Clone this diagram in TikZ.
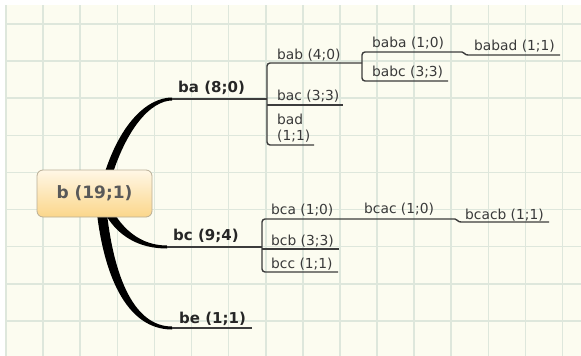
\documentclass[tikz,border=0pt]{standalone}
\usepackage{fontspec}
\setmainfont{DejaVu Sans}
\definecolor{bgc}{HTML}{FCFCF0}
\definecolor{gridc}{HTML}{DEE7DC}
\definecolor{linec}{HTML}{3C3C3C}
\definecolor{txtc}{HTML}{3A3A3A}
\definecolor{rootborder}{HTML}{B9AE96}
\definecolor{roottop}{HTML}{FFF7E6}
\definecolor{rootbot}{HTML}{FBD68A}
\definecolor{roottext}{HTML}{595959}
\begin{document}
\begin{tikzpicture}[x=1pt,y=-1pt,
  leaf/.style={anchor=base west, inner sep=0pt, text=txtc, font=\fontsize{13.8}{15.5}\selectfont},
  mainlbl/.style={anchor=base west, inner sep=0pt, text=black!85, font=\fontsize{15}{18}\selectfont\bfseries},
  thinline/.style={draw=linec, line width=1.4pt},
  bracket/.style={draw=linec, line width=1.4pt, rounded corners=3pt},
  taper/.style={fill=black},
  rootbox/.style={draw=rootborder, line width=0.8pt, rounded corners=6pt, top color=roottop, bottom color=rootbot, minimum width=115pt, minimum height=47pt, text=roottext, font=\fontsize{17}{20}\selectfont\bfseries}]
\useasboundingbox (0,0) rectangle (581,356);
\fill[bgc] (5,5) rectangle (581,356);
\foreach \i in {0,...,15} \draw[gridc, line width=1.6pt] ({6+37.1*\i},5) -- ({6+37.1*\i},356);
\foreach \j in {0,...,8} \draw[gridc, line width=1.6pt] (5,{24+37.1*\j}) -- (581,{24+37.1*\j});

% coordinates
\coordinate (baE) at (172,99);
\coordinate (baJ) at (267,99);
\coordinate (babJ) at (362,63);
\coordinate (bacS) at (267,105);
\coordinate (bacE) at (343,105);
\coordinate (badE) at (314,145);
\coordinate (babaE) at (462,52);
\coordinate (babadE) at (560,55);
\coordinate (babcE) at (448,81);
\coordinate (bcE) at (167,247);
\coordinate (bcJ) at (262,247);
\coordinate (bcacE) at (455,219);
\coordinate (bcacbE) at (549,222);
\coordinate (bcbS) at (262,249);
\coordinate (bcbE) at (339,249);
\coordinate (bccE) at (338,272);
\coordinate (beE) at (172,328);
\coordinate (beF) at (252,328);

% tapered main branches
\fill[taper] (99,193) .. controls (116,123) and (148,97.5) .. (172,97.5) -- (172,100.5) .. controls (152,100.5) and (124,127) .. (107,193) -- cycle;
\fill[taper] (103.5,191.5) .. controls (119,232) and (143,245.5) .. (167,245.5) -- (167,248.5) .. controls (141,248.5) and (111,238) .. (96.5,194.5) -- cycle;
\fill[taper] (105,193) .. controls (111,274) and (133,326.5) .. (172,326.5) -- (172,329.5) .. controls (127,329.5) and (101,276) .. (95,193) -- cycle;

\node[rootbox] (root) at (94.5,193.5) {b (19;1)};

% ba subtree
\draw[thinline] (baE) -- (baJ);
\draw[bracket] (babJ) -- (267,63) -- (267,145) -- (badE);
\draw[thinline] (bacS) -- (bacE);
\draw[bracket] (babaE) -- (362,52) -- (362,81) -- (babcE);
\draw[thinline] (babaE) .. controls (465,52) and (464,55) .. (468,55) -- (babadE);

% bc subtree
\draw[thinline] (bcE) -- (bcJ);
\draw[bracket] (bcacE) -- (262,219) -- (262,272) -- (bccE);
\draw[thinline] (bcbS) -- (bcbE);
\draw[thinline] (bcacE) .. controls (458,219) and (457,222) .. (461,222) -- (bcacbE);

% be
\draw[thinline] (beE) -- (beF);

% labels
\node[mainlbl] (ba) at (178,92) {ba (8;0)};
\node[mainlbl] (bc) at (173,240) {bc (9;4)};
\node[mainlbl] (be) at (179,323) {be (1;1)};
\node[leaf] (bab) at (277,59) {bab (4;0)};
\node[leaf] (bac) at (277,100) {bac (3;3)};
\node[leaf, align=left] (bad) at (277,140) {bad\\(1;1)};
\node[leaf] (baba) at (372,47) {baba (1;0)};
\node[leaf] (babad) at (474,50) {babad (1;1)};
\node[leaf] (babc) at (372,76) {babc (3;3)};
\node[leaf] (bca) at (271,214) {bca (1;0)};
\node[leaf] (bcac) at (364,213) {bcac (1;0)};
\node[leaf] (bcacb) at (465,219) {bcacb (1;1)};
\node[leaf] (bcb) at (271,245) {bcb (3;3)};
\node[leaf] (bcc) at (271,268) {bcc (1;1)};
\end{tikzpicture}
\end{document}
